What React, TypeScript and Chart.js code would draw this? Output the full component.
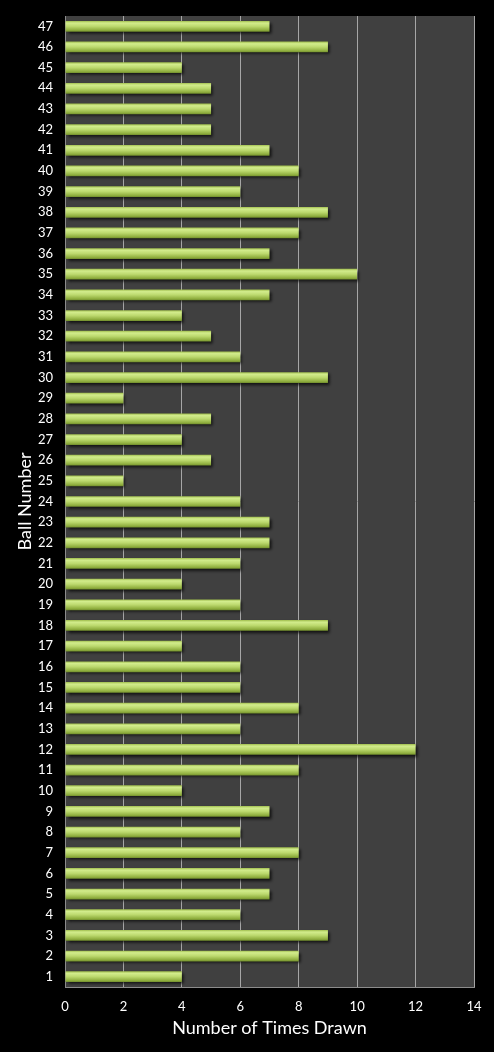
import { useEffect, useRef } from "react";
import { Chart, registerables } from "chart.js";
import type { ChartOptions, Plugin, ScriptableContext } from "chart.js";

Chart.register(...registerables);

// ball numbers top to bottom (47 at top)
const balls: string[] = [
  "47", "46", "45", "44", "43", "42", "41", "40", "39", "38", "37", "36",
  "35", "34", "33", "32", "31", "30", "29", "28", "27", "26", "25", "24",
  "23", "22", "21", "20", "19", "18", "17", "16", "15", "14", "13", "12",
  "11", "10", "9", "8", "7", "6", "5", "4", "3", "2", "1",
];

const timesDrawn: number[] = [
  7, 9, 4, 5, 5, 5, 7, 8, 6, 9, 8, 7,
  10, 7, 4, 5, 6, 9, 2, 5, 4, 5, 2, 6,
  7, 7, 6, 4, 6, 9, 4, 6, 6, 8, 6, 12,
  8, 4, 7, 6, 8, 7, 7, 6, 9, 8, 4,
];

const xMax = 14;
const xStep = 2;

const FONT = "Lato, 'Open Sans', sans-serif";

const plotBackground: Plugin<"bar"> = {
  id: "plotBackground",
  beforeDraw(chart) {
    const { ctx, chartArea } = chart;
    ctx.save();
    ctx.fillStyle = "#000000";
    ctx.fillRect(0, 0, chart.width, chart.height);
    ctx.fillStyle = "#404040";
    ctx.fillRect(chartArea.left, chartArea.top, chartArea.right - chartArea.left, chartArea.bottom - chartArea.top);
    ctx.restore();
  },
};

const barShadow: Plugin<"bar"> = {
  id: "barShadow",
  beforeDatasetDraw(chart) {
    const ctx = chart.ctx;
    ctx.save();
    ctx.shadowColor = "rgba(0,0,0,0.75)";
    ctx.shadowBlur = 3;
    ctx.shadowOffsetX = 2;
    ctx.shadowOffsetY = 2;
  },
  afterDatasetDraw(chart) {
    chart.ctx.restore();
  },
};

function barFill(context: ScriptableContext<"bar">) {
  const chart = context.chart;
  const yScale = chart.scales.y;
  if (!chart.chartArea || !yScale) return "#a9c95a";
  const y = yScale.getPixelForValue(context.dataIndex);
  const half = 5.5;
  const g = chart.ctx.createLinearGradient(0, y - half, 0, y + half);
  g.addColorStop(0, "#9dbb4a");
  g.addColorStop(0.2, "#d2ec8c");
  g.addColorStop(0.5, "#bcd96e");
  g.addColorStop(0.85, "#8fae3e");
  g.addColorStop(1, "#6f8a2c");
  return g;
}

export default function App() {
  const canvasRef = useRef<HTMLCanvasElement | null>(null);

  useEffect(() => {
    if (!canvasRef.current) return;

    const options: ChartOptions<"bar"> = {
      indexAxis: "y",
      animation: false,
      responsive: true,
      maintainAspectRatio: false,
      layout: { padding: { top: 16, right: 20, left: 0, bottom: 0 } },
      plugins: {
        legend: { display: false },
        tooltip: { enabled: false },
      },
      scales: {
        x: {
          min: 0,
          max: xMax,
          ticks: {
            stepSize: xStep,
            color: "#ffffff",
            font: { family: FONT, size: 13 },
            padding: 12,
          },
          grid: {
            color: "#a6a6a6",
            lineWidth: 1,
            drawTicks: false,
          },
          border: { color: "#8c8c8c", width: 1 },
          title: {
            display: true,
            text: "Number of Times Drawn",
            color: "#ffffff",
            font: { family: FONT, size: 18 },
            padding: { top: 0, bottom: 13 },
          },
          afterFit(scale) {
            scale.height = 65;
          },
        },
        y: {
          ticks: {
            color: "#ffffff",
            font: { family: FONT, size: 13 },
            padding: 12,
            autoSkip: false,
          },
          grid: { display: false, drawTicks: false },
          border: { color: "#8c8c8c", width: 1 },
          title: {
            display: true,
            text: "Ball Number",
            color: "#ffffff",
            font: { family: FONT, size: 18 },
            padding: { top: 14, bottom: 0 },
          },
          afterFit(scale) {
            scale.width = 65;
            scale.paddingTop = 0;
            scale.paddingBottom = 0;
          },
        },
      },
    };

    const chart = new Chart(canvasRef.current, {
      type: "bar",
      data: {
        labels: balls,
        datasets: [
          {
            label: "Times Drawn",
            data: timesDrawn,
            backgroundColor: barFill,
            borderWidth: 0,
            barPercentage: 0.52,
            categoryPercentage: 1,
          },
        ],
      },
      options,
      plugins: [plotBackground, barShadow],
    });

    return () => {
      chart.destroy();
    };
  }, []);

  return (
    <div style={{ position: "fixed", left: 0, top: 0, width: 494, height: 1052, background: "#000" }}>
      <canvas ref={canvasRef} />
    </div>
  );
}
